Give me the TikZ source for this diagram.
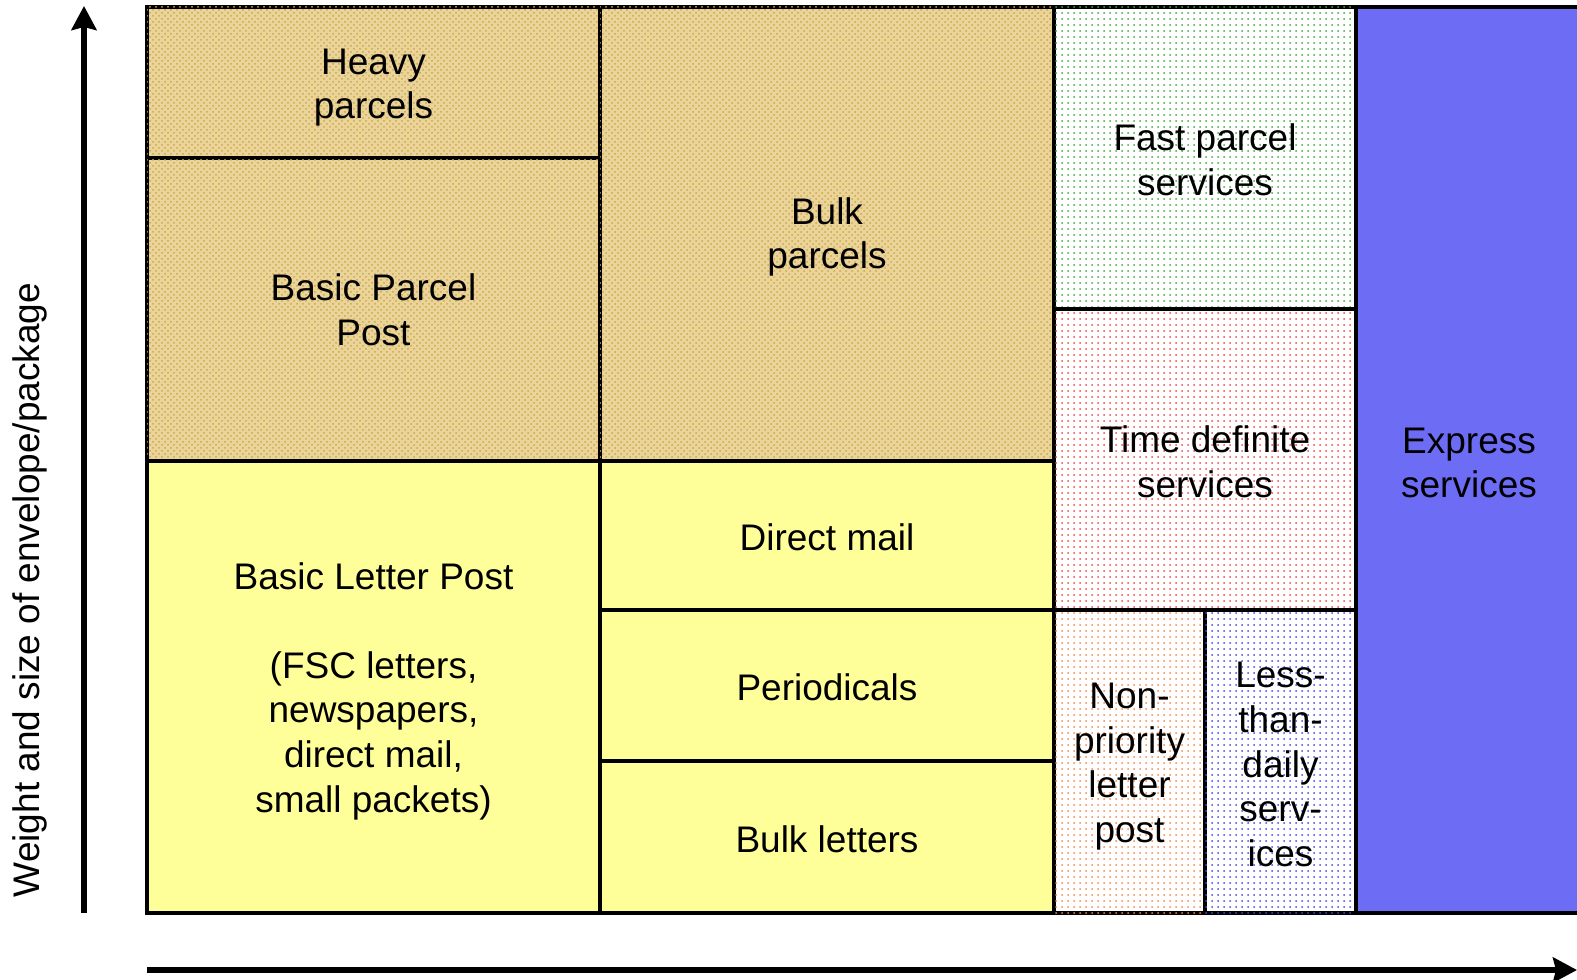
\documentclass[tikz,border=0pt]{standalone}
\usepackage{fontspec}
\setmainfont{Liberation Sans}
\usetikzlibrary{arrows.meta,patterns}
\definecolor{tanfill}{HTML}{E9D49C}
\definecolor{tandot}{HTML}{D4A53E}
\definecolor{letteryellow}{HTML}{FFFF99}
\definecolor{greendot}{HTML}{3FAA3F}
\definecolor{reddot}{HTML}{F04848}
\definecolor{orangedot}{HTML}{F5884A}
\definecolor{bluedot}{HTML}{4848E8}
\definecolor{expressblue}{HTML}{6C6CF4}
\tikzset{
  cell/.style={draw=black, line width=2pt},
  parcel/.style={cell, fill=tanfill, postaction={pattern=crosshatch dots, pattern color=tandot}},
  letter/.style={cell, fill=letteryellow},
  dotted cell/.style={cell, fill=white, postaction={pattern=dots, pattern color=#1}},
  label/.style={font=\fontsize{18.5}{22.3}\selectfont, align=center, text=black, inner sep=0pt, yshift=-1pt},
  axis/.style={line width=3.3pt, -{Stealth[width=12.5pt,length=12pt,inset=1.5pt]}}
}
\begin{document}
\begin{tikzpicture}[x=0.5pt,y=-0.5pt]
\useasboundingbox (0,0) rectangle (1577,979);
\fill[white] (0,0) rectangle (1577,979);

% parcel column 1
\draw[parcel] (147,7) rectangle (600,158) node[midway,label,yshift=-1.5pt] (heavy) {Heavy\\parcels};
\draw[parcel] (147,158) rectangle (600,461) node[midway,label,yshift=1pt] (basicparcel) {Basic Parcel\\Post};
% parcel column 2
\draw[parcel] (600,7) rectangle (1054,461) node[midway,label,yshift=-0.5pt] (bulkparcels) {Bulk\\parcels};

% letter area
\draw[letter] (147,461) rectangle (600,913) node[midway,label,yshift=-1pt] (basicletter)
  {Basic Letter Post\\[22.3pt](FSC letters,\\newspapers,\\direct mail,\\small packets)};
\draw[letter] (600,461) rectangle (1054,610) node[midway,label] (directmail) {Direct mail};
\draw[letter] (600,610) rectangle (1054,761) node[midway,label] (periodicals) {Periodicals};
\draw[letter] (600,761) rectangle (1054,913) node[midway,label] (bulkletters) {Bulk letters};

% faster services
\draw[dotted cell=greendot] (1054,7) rectangle (1356,309) node[midway,label] (fastparcel) {Fast parcel\\services};
\draw[dotted cell=reddot] (1054,309) rectangle (1356,610) node[midway,label] (timedef) {Time definite\\services};
\draw[dotted cell=orangedot] (1054,610) rectangle (1205,913) node[midway,label,yshift=-1.5pt] (nonpriority) {Non-\\priority\\letter\\post};
\draw[dotted cell=bluedot] (1205,610) rectangle (1356,913) node[midway,label,yshift=-0.5pt] (lessdaily) {Less-\\than-\\daily\\serv-\\ices};
\draw[cell, fill=expressblue] (1356,7) rectangle (1590,913);
\node[label] (express) at (1469,461) {Express\\services};

% axes
\coordinate (ybase) at (84,913);
\coordinate (ytip) at (84,6);
\coordinate (xbase) at (147,970);
\coordinate (xtip) at (1577,970);
\draw[axis] (ybase) -- (ytip);
\draw[axis] (xbase) -- (xtip);
\node[label, rotate=90] (ylabel) at (30,588) {Weight and size of envelope/package};
\end{tikzpicture}
\end{document}
